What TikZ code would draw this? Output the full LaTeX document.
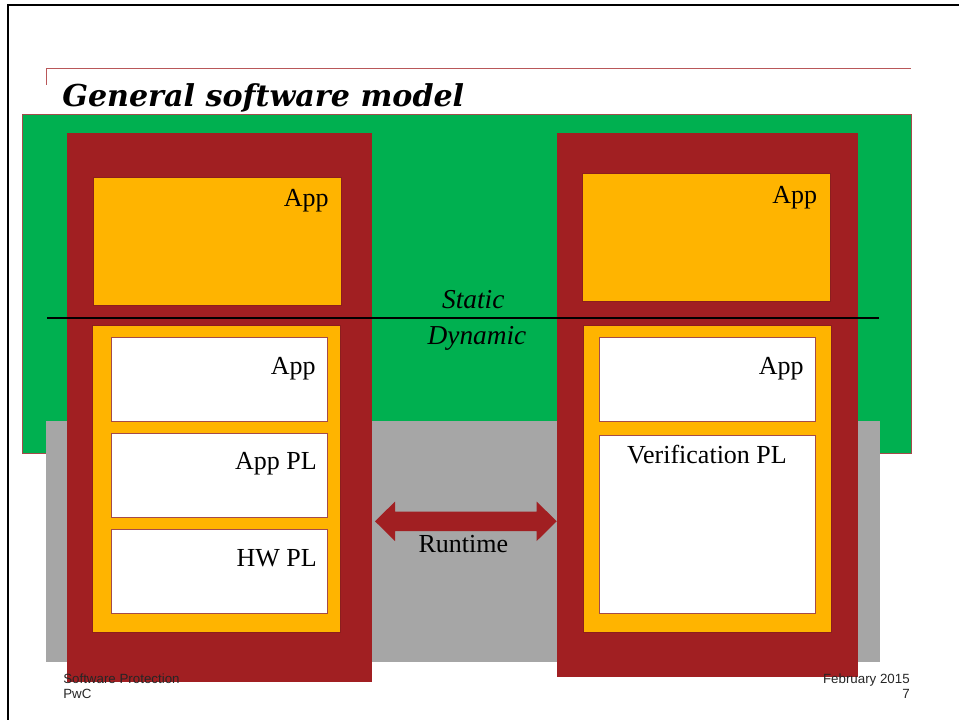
\documentclass[tikz,border=0pt]{standalone}
\usepackage{fontspec}
\setmainfont{Liberation Serif}
\newfontfamily\ttlfont{DejaVu Serif}
\newfontfamily\ftfont{Liberation Sans}
\usepackage{tikz}
\usetikzlibrary{calc}
\definecolor{pwcgreen}{RGB}{0,176,80}
\definecolor{pwcred}{RGB}{161,31,34}
\definecolor{pwcorange}{RGB}{255,180,0}
\definecolor{pwcgray}{RGB}{166,166,166}
\definecolor{edgered}{RGB}{140,30,30}
\tikzset{
  zone/.style={line width=0.5pt},
  colbox/.style={fill=pwcred},
  orbox/.style={fill=pwcorange, draw=edgered, line width=0.6pt},
  whbox/.style={fill=white, draw=edgered!80, line width=0.6pt},
  lbl/.style={inner sep=0pt, font=\fontsize{19.5}{23}\selectfont},
  ilbl/.style={inner sep=0pt, font=\fontsize{20.5}{24}\selectfont\itshape},
  ftr/.style={inner sep=0pt, font=\ftfont\fontsize{10}{12}\selectfont, text=black!85},
  rtarr/.style={fill=pwcred},
}

\begin{document}
\begin{tikzpicture}[x=0.75pt, y=-0.75pt]
\useasboundingbox (0,0) rectangle (959,720);
% slide frame and title
\draw[line width=1.5pt] (8,720) -- (8,5) -- (959,5);
\draw[pwcred!75, line width=0.75pt] (46,85) -- (46,69) -- (911,69);
\node[inner sep=0pt, anchor=base west, font=\ttlfont\bfseries\itshape\fontsize{22.6}{27}\selectfont]
  (title) at (62,107) {General software model};
% static / dynamic zones
\fill[pwcgreen] (22.7,114) rectangle (911,453.3);
\draw[zone, edgered!80] (22.7,114) rectangle (911,453.3);
\fill[pwcgray] (46.7,421.7) rectangle (879.3,661);
\draw[zone, gray!70] (46.7,421.7) rectangle (879.3,661);
% left column
\begin{scope}
  \fill[colbox] (67.3,133.3) rectangle (371.7,681.7);
  \draw[orbox] (93.7,177.7) rectangle (341,305);
  \draw[orbox] (92.7,325.7) rectangle (340,632.7);
  \draw[whbox] (111.3,337.7) rectangle (327,421.3);
  \draw[whbox] (111.3,433.7) rectangle (327,517);
  \draw[whbox] (111.3,529.7) rectangle (327,613.3);
  \node[lbl, anchor=east] (appS1) at (329,201) {App};
  \node[lbl, anchor=east] (appD1) at (316,369) {App};
  \node[lbl, anchor=east] (appPL) at (317,464) {App PL};
  \node[lbl, anchor=east] (hwPL) at (317,558) {HW PL};
\end{scope}
% right column
\begin{scope}
  \fill[colbox] (557,133.3) rectangle (857.7,676.7);
  \draw[orbox] (582.3,173.3) rectangle (830,301.3);
  \draw[orbox] (583.3,325.7) rectangle (831,632.7);
  \draw[whbox] (599,337.7) rectangle (815.3,421.3);
  \draw[whbox] (599,435.3) rectangle (815.3,613.3);
  \node[lbl, anchor=east] (appS2) at (817.3,197.5) {App};
  \node[lbl, anchor=east] (appD2) at (804,369) {App};
  \node[lbl] (verPL) at (707,455) {Verification PL};
\end{scope}
% static / dynamic split
\draw[line width=0.8pt] (47,318) -- (879,318);
\node[ilbl] (static) at (473.3,300) {Static};
\node[ilbl] (dynamic) at (477,338) {Dynamic};
% runtime link
\coordinate (arL) at (375,521.3);
\coordinate (arR) at (556.7,521.3);
\fill[rtarr] (arL) -- ($(arL)+(20,-19.7)$) -- ($(arL)+(20,-9.7)$) -- ($(arR)+(-20,-9.7)$)
  -- ($(arR)+(-20,-19.7)$) -- (arR) -- ($(arR)+(-20,19.7)$) -- ($(arR)+(-20,9.7)$)
  -- ($(arL)+(20,9.7)$) -- ($(arL)+(20,19.7)$) -- cycle;
\node[lbl] (runtime) at (463.3,544) {Runtime};
% footer
\node[ftr, anchor=base west] (ftA) at (63,683) {Software Protection};
\node[ftr, anchor=base west] (ftB) at (63,698) {PwC};
\node[ftr, anchor=base east] (ftC) at (910,683) {February 2015};
\node[ftr, anchor=base east] (ftD) at (910,698) {7};
\end{tikzpicture}
\end{document}
